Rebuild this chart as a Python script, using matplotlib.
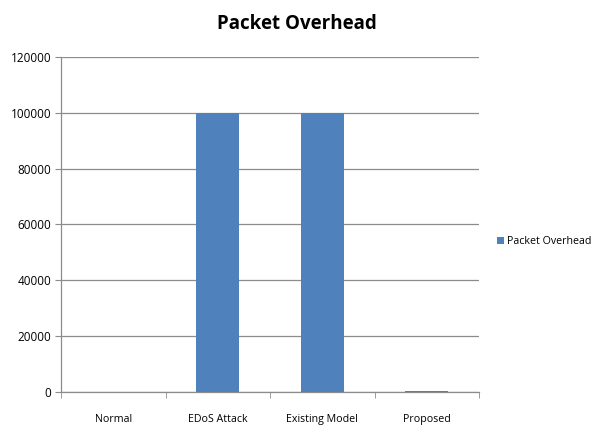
import matplotlib
matplotlib.use("Agg")
import matplotlib.pyplot as plt
import numpy as np

categories = ["Normal", "EDoS Attack", "Existing Model", "Proposed"]
values = [0, 100000, 100000, 500]
series_name = "Packet Overhead"
yticks = [0, 20000, 40000, 60000, 80000, 100000, 120000]

plt.rcParams['font.family'] = ['Open Sans', 'DejaVu Sans']

fig = plt.figure(figsize=(5.94, 4.26), dpi=100)
ax = fig.add_axes([61/594, 1-392/426, (479-61)/594, (392-57)/426])

x = np.arange(len(categories))
ax.bar(x, values, width=0.41, color="#4F81BD", label=series_name, zorder=3)

ax.set_xlim(-0.5, len(categories)-0.5)
ax.set_ylim(0, 120000)
ax.set_yticks(yticks)
ax.set_yticklabels([str(t) for t in yticks], fontsize=8.5)
ax.yaxis.grid(True, color="#8C8C8C", linewidth=0.9, zorder=0)

ax.set_xticks(x)
ax.set_xticklabels(categories, fontsize=7.7)
ax.tick_params(axis='x', length=0, pad=16)
ax.set_xticks(np.arange(-0.5, len(categories)), minor=True)
ax.tick_params(axis='x', which='minor', length=4, color="#8C8C8C")
ax.tick_params(axis='y', length=4, color="#8C8C8C", pad=3)

for s in ["top", "right"]:
    ax.spines[s].set_visible(False)
for s in ["left", "bottom"]:
    ax.spines[s].set_color("#8C8C8C")
    ax.spines[s].set_linewidth(0.9)

fig.suptitle("Packet Overhead", fontsize=13.5, fontweight="bold", x=0.5, y=0.968)

leg = fig.legend(loc="center left", bbox_to_anchor=(494/594, 1-242/426), frameon=False,
                 fontsize=7.7, handlelength=0.6, handleheight=0.6, handletextpad=0.3,
                 borderaxespad=0, borderpad=0.3)

fig.savefig("out.png", dpi=100)
